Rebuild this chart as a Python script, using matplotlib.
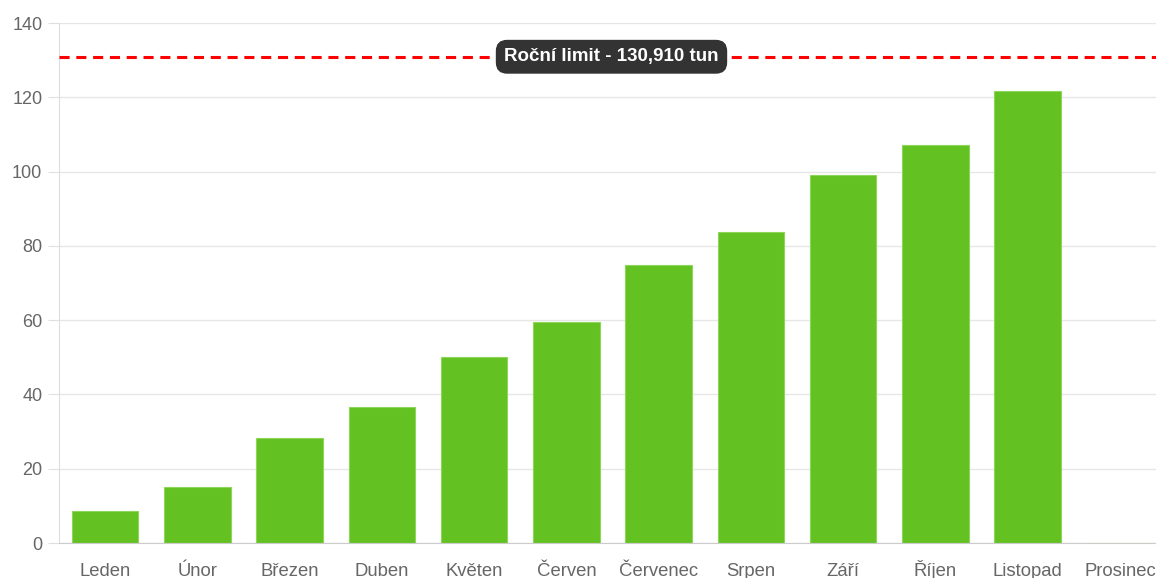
import matplotlib
matplotlib.use("Agg")
import matplotlib.pyplot as plt

months = ["Leden", "Únor", "Březen", "Duben", "Květen", "Červen", "Červenec",
          "Srpen", "Září", "Říjen", "Listopad", "Prosinec"]
values = [8.6, 15.1, 28.3, 36.6, 50.1, 59.5, 74.9, 83.7, 99.1, 107.2, 121.7, 0]
limit = 130.91
limit_label = "Roční limit - 130,910 tun"
yticks = [0, 20, 40, 60, 80, 100, 120, 140]

plt.rcParams['font.family'] = ['Liberation Sans', 'DejaVu Sans']

fig = plt.figure(figsize=(11.56, 5.78), dpi=100)
ax = fig.add_axes([59/1156, 35/578, 1107/1156, 520/578])

x = list(range(len(months)))
ax.bar(x, values, width=0.72, color='#63c122', edgecolor='#8ed65a', linewidth=0.8, zorder=2)

ax.set_xlim(-0.5, len(months) - 0.5)
ax.set_ylim(0, 140)
ax.set_yticks(yticks)
ax.set_xticks(x)
ax.set_xticklabels(months, va='baseline')

ax.grid(axis='y', color='#e6e6e6', linewidth=1, zorder=0)
for s in ['top', 'right']:
    ax.spines[s].set_visible(False)
ax.spines['left'].set_color('#dddddd')
ax.spines['bottom'].set_color('#cccccc')
ax.tick_params(axis='y', length=8, color='#e0e0e0', labelsize=13, labelcolor='#666666', pad=4)
ax.tick_params(axis='x', length=0, labelsize=13.3, labelcolor='#666666', pad=23.5)

ax.axhline(limit, color='#ff0000', linestyle=(0, (3.3, 2.2)), linewidth=2.2, zorder=3)
ax.text(552.5/1107, limit, limit_label, transform=ax.get_yaxis_transform(), ha='center', va='center',
        color='white', fontsize=13.5, fontweight='bold', zorder=5,
        bbox=dict(boxstyle='round,pad=0.45,rounding_size=0.6', facecolor='#333333', edgecolor='none'))

fig.savefig("out.png", dpi=100)
